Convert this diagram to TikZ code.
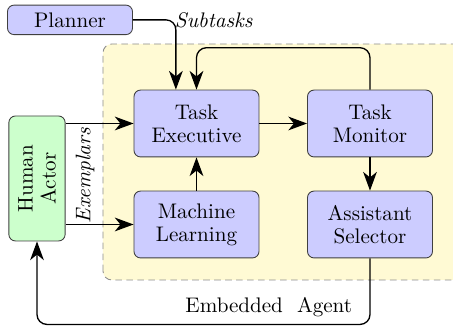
\documentclass[tikz,border=0pt]{standalone}
\usetikzlibrary{arrows.meta}
\definecolor{agentbg}{RGB}{255,250,212}

\tikzset{
  block/.style={draw=black!75, fill=blue!20, rounded corners=3pt, minimum width=2cm,
    minimum height=1.07cm, align=center, font=\fontsize{9.6}{10.5}\selectfont},
  actor/.style={block, fill=green!20, minimum height=0.9cm, rotate=90},
  link/.style={semithick, -{Stealth[length=3mm,width=2.2mm,inset=0.9mm]}, rounded corners=4.5pt},
}

\begin{document}
\begin{tikzpicture}
\useasboundingbox (0,0) rectangle (7.248,5.248);

% Agent area
\draw[fill=agentbg, draw=black!45, dash pattern=on 3pt off 2pt, rounded corners=4pt]
  (1.648,0.768) rectangle (7.5,4.544);

% Blocks
\node[block, minimum height=0.464cm] (planner) at (1.12,4.93) {Planner};
\node[block] (exec) at (3.144,3.272) {Task\\Executive};
\node[block] (monitor) at (5.92,3.272) {Task\\Monitor};
\node[block] (learn) at (3.144,1.656) {Machine\\Learning};
\node[block] (select) at (5.92,1.656) {Assistant\\Selector};
\node[actor] (human) at (0.592,2.392) {Human\\Actor};

% Labels
\node[font=\fontsize{9.6}{10.5}\selectfont\itshape] (subtasks) at (3.42,4.93) {Subtasks};
\node[font=\fontsize{9.6}{10.5}\selectfont\itshape, rotate=90] (exemplars) at (1.36,2.44) {Exemplars};
\node[font=\fontsize{9.6}{10.5}\selectfont] (agent) at (4.3,0.336) {Embedded\ \ Agent};

% Arrows
\draw[link] (planner.east) -| ([xshift=-0.33cm]exec.north);
\draw[link] (human.south |- exec.west) -- (exec.west);
\draw[link] (human.south |- learn.west) -- (learn.west);
\draw[link] (exec) -- (monitor);
\draw[link] (learn) -- (exec);
\draw[link] (monitor) -- (select);
\draw[link] (monitor.north) -- ++(0,0.67) -| (exec.north);
\draw[link] (select.south) -- ++(0,-1.057) -| (human.west);
\end{tikzpicture}
\end{document}
